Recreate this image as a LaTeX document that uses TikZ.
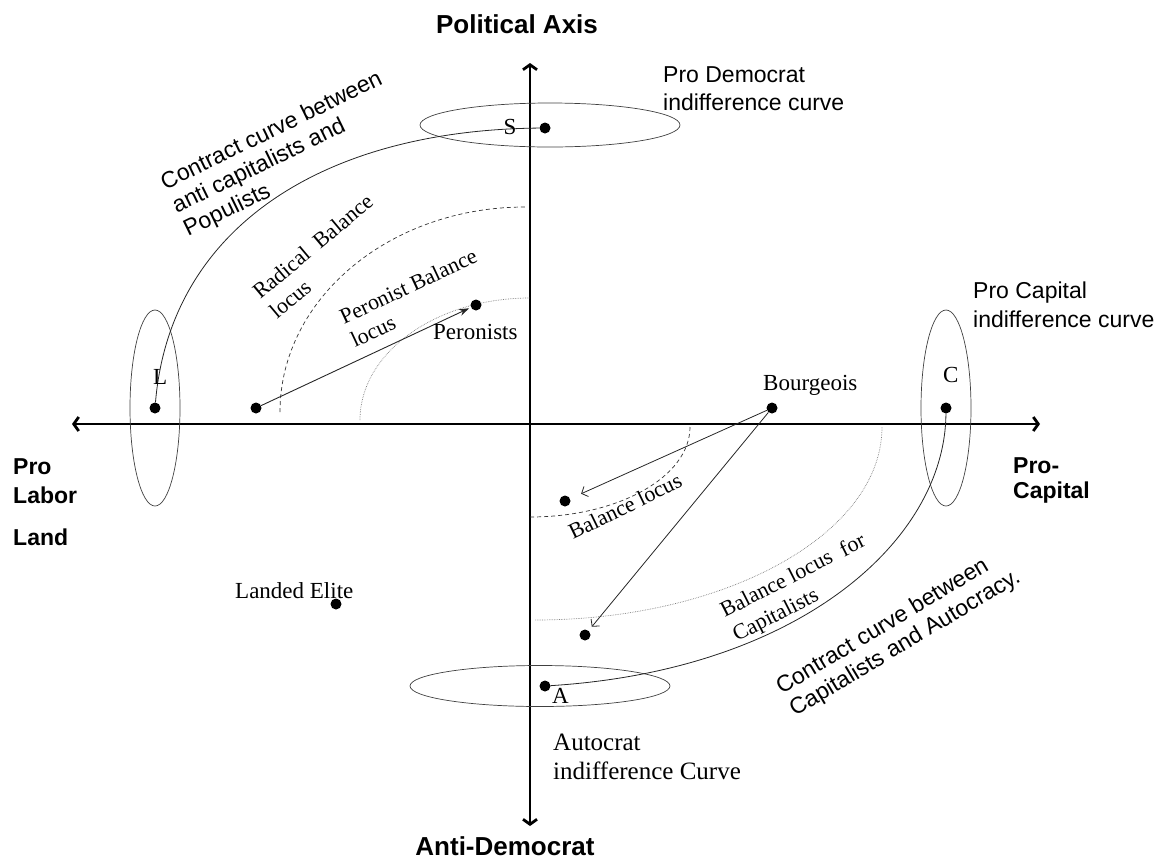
\documentclass[tikz,border=0pt]{standalone}
\usepackage{fontspec}
\setmainfont{Liberation Serif}
\setsansfont{Liberation Sans}
\usetikzlibrary{shapes.geometric, arrows.meta}

\begin{document}
\begin{tikzpicture}[
    x=1pt, y=1pt,
    axis/.style={line width=2.8pt, >={Straight Barb[length=5pt, width=14pt]}, <->},
    dot/.style={circle, fill=black, inner sep=0pt, minimum size=11pt},
    indiff/.style={ellipse, draw=black!75, line width=0.7pt, inner sep=0pt},
    contract/.style={draw=black!85, line width=0.8pt},
    radical/.style={draw=black!80, line width=0.7pt, dash pattern=on 4pt off 3pt},
    faint/.style={draw=black!50, line width=0.7pt, densely dotted},
    push/.style={draw=black!85, line width=0.9pt, -{Stealth[length=10pt, width=7pt]}},
    pull/.style={draw=black!85, line width=0.8pt, -{Straight Barb[length=5pt, width=11pt]}},
    axtitle/.style={font=\fontsize{26}{30}\selectfont\sffamily\bfseries, anchor=base, inner sep=0pt},
    side/.style={font=\fontsize{23}{26}\selectfont\sffamily\bfseries, anchor=base west, inner sep=0pt},
    note/.style={font=\fontsize{23}{27}\selectfont\sffamily, anchor=base west, inner sep=0pt, align=left},
    lab/.style={font=\fontsize{23}{26}\selectfont, anchor=base west, inner sep=0pt},
    locus/.style={font=\fontsize{22}{26}\selectfont, anchor=base west, inner sep=0pt, align=left}
]
    \useasboundingbox (0,0) rectangle (1173,-863);

    % Axes
    \coordinate (labor) at (72,-424);
    \coordinate (capital) at (1040,-424);
    \coordinate (demo) at (530,-63);
    \coordinate (autoc) at (530,-826);
    \draw[axis] (labor) -- (capital);
    \draw[axis] (autoc) -- (demo);

    % Balance loci
    \draw[radical] (280,-412) arc[start angle=180, end angle=90, x radius=245, y radius=205];
    \draw[faint] (360,-420) arc[start angle=180, end angle=90, x radius=170, y radius=122];
    \draw[radical] (690,-427) arc[start angle=0, end angle=-90, x radius=160, y radius=90];
    \draw[faint] (882,-427) arc[start angle=0, end angle=-90, x radius=347, y radius=193];

    % Indifference curves
    \node[indiff, minimum width=260, minimum height=44] (sell) at (550,-125) {};
    \node[indiff, minimum width=50, minimum height=196] (lell) at (155,-408) {};
    \node[indiff, minimum width=50, minimum height=196] (cell) at (946,-408) {};
    \node[indiff, minimum width=260, minimum height=41] (aell) at (540,-686) {};

    % Ideal points
    \node[dot] (sdot) at (545,-128) {};
    \node[dot] (ldot) at (155,-408) {};
    \node[dot] (cdot) at (946,-408) {};
    \node[dot] (adot) at (545,-686) {};
    \node[dot] (workdot) at (256,-408) {};
    \node[dot] (perdot) at (476,-305) {};
    \node[dot] (bourdot) at (772,-408) {};
    \node[dot] (baldot) at (565,-501) {};
    \node[dot] (capdot) at (585,-635) {};
    \node[dot] (elitedot) at (336,-604) {};

    % Contract curves
    \draw[contract] (ldot) .. controls (170,-230) and (320,-130) .. (sdot);
    \draw[contract] (cdot) .. controls (945,-540) and (800,-670) .. (adot);

    % Moves
    \draw[push, shorten >=2pt] (workdot) -- (perdot);
    \draw[pull, shorten >=12pt] (bourdot) -- (baldot);
    \draw[pull, shorten >=5pt] (bourdot) -- (capdot);

    % Point labels
    \node[lab, anchor=base] (slab) at (510,-134) {S};
    \node[lab] (llab) at (153,-384) {L};
    \node[lab] (clab) at (943,-382) {C};
    \node[lab] (alab) at (552,-703) {A};
    \node[lab] (perlab) at (433,-339) {Peronists};
    \node[lab] (bourlab) at (763,-390) {Bourgeois};
    \node[lab] (elitelab) at (235,-598) {Landed Elite};

    % Axis titles
    \node[axtitle] (toptitle) at (517,-33) {Political Axis};
    \node[axtitle] (bottitle) at (505,-855) {Anti-Democrat};
    \node[side] (pro) at (13,-474) {Pro};
    \node[side] (labr) at (13,-503) {Labor};
    \node[side] (land) at (13,-545) {Land};
    \node[side] (procap) at (1013,-473) {Pro-};
    \node[side] (cap) at (1013,-498) {Capital};

    % Indifference curve notes (base = last line)
    \node[note, font=\fontsize{23}{28}\selectfont\sffamily] (demonote) at (663,-110) {Pro Democrat\\indifference curve};
    \node[note, font=\fontsize{23}{29}\selectfont\sffamily] (capnote) at (973,-327) {Pro Capital\\indifference curve};
    \node[lab, align=left, font=\fontsize{25}{29}\selectfont] (autonote) at (553,-779) {Autocrat\\indifference Curve};

    % Contract curve notes
    \node[note, font=\fontsize{23}{26}\selectfont\sffamily, rotate=26] (ctop) at (188,-237) {Contract curve between\\anti capitalists and\\Populists};
    \node[note, font=\fontsize{23}{26}\selectfont\sffamily, rotate=31] (cbot) at (795,-717) {Contract curve between\\Capitalists and Autocracy.};

    % Locus notes
    \node[locus, rotate=40] (radnote) at (277,-320) {Radical~ Balance\\locus};
    \node[locus, rotate=25] (pernote) at (355,-348) {Peronist Balance\\locus};
    \node[locus, rotate=26] (balnote) at (573,-540) {Balance locus};
    \node[locus, rotate=27, font=\fontsize{22}{27}\selectfont] (capbal) at (737,-642) {Balance locus~ for\\Capitalists};

\end{tikzpicture}
\end{document}
